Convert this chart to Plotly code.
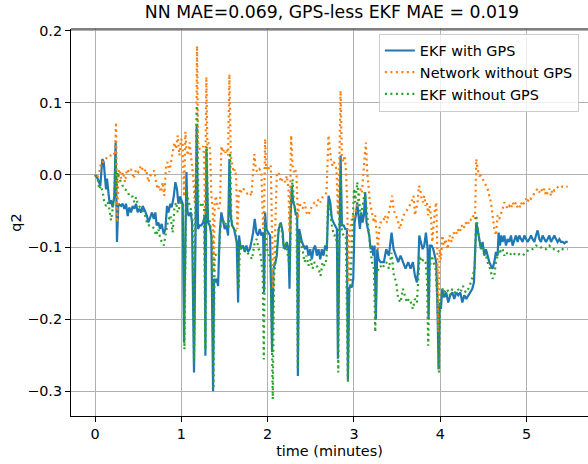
import plotly.graph_objects as go

# ---------------- data ----------------
t_ekf_gps = [0.0, 0.029, 0.060, 0.083, 0.099, 0.114, 0.126, 0.137, 0.153, 0.168, 0.184, 0.203, 0.222, 0.237, 0.253,
             0.269, 0.300, 0.319, 0.338, 0.358, 0.377, 0.396, 0.416, 0.435, 0.454, 0.474, 0.493, 0.512, 0.532, 0.551,
             0.578, 0.601, 0.617, 0.640, 0.659, 0.679, 0.698, 0.713, 0.733, 0.752, 0.771, 0.795, 0.814, 0.833, 0.849,
             0.872, 0.887, 0.911, 0.930, 0.949, 0.965, 0.984, 1.015, 1.030, 1.045, 1.058, 1.070, 1.084, 1.108, 1.123,
             1.146, 1.166, 1.177, 1.193, 1.212, 1.231, 1.251, 1.270, 1.278, 1.289, 1.309, 1.328, 1.347, 1.367, 1.378,
             1.394, 1.409, 1.425, 1.444, 1.463, 1.483, 1.502, 1.521, 1.541, 1.556, 1.572, 1.587, 1.610, 1.626, 1.641,
             1.657, 1.668, 1.688, 1.715, 1.734, 1.753, 1.773, 1.792, 1.811, 1.831, 1.850, 1.869, 1.889, 1.908, 1.927,
             1.947, 1.958, 1.970, 1.982, 2.005, 2.028, 2.051, 2.067, 2.090, 2.105, 2.128, 2.152, 2.175, 2.183, 2.203,
             2.222, 2.241, 2.253, 2.265, 2.280, 2.295, 2.311, 2.326, 2.342, 2.350, 2.365, 2.381, 2.396, 2.415, 2.435,
             2.454, 2.473, 2.493, 2.512, 2.531, 2.551, 2.570, 2.589, 2.609, 2.628, 2.647, 2.667, 2.686, 2.705, 2.725,
             2.744, 2.763, 2.783, 2.802, 2.814, 2.829, 2.845, 2.860, 2.879, 2.899, 2.918, 2.930, 2.945, 2.961, 2.976,
             2.992, 3.007, 3.022, 3.038, 3.053, 3.069, 3.084, 3.100, 3.115, 3.131, 3.146, 3.162, 3.177, 3.193, 3.208,
             3.224, 3.239, 3.254, 3.270, 3.285, 3.309, 3.347, 3.374, 3.405, 3.436, 3.459, 3.482, 3.513, 3.540, 3.567,
             3.598, 3.629, 3.656, 3.683, 3.707, 3.730, 3.745, 3.757, 3.776, 3.796, 3.815, 3.834, 3.854, 3.865, 3.881,
             3.900, 3.919, 3.939, 3.954, 3.970, 3.981, 3.993, 4.008, 4.024, 4.047, 4.070, 4.093, 4.117, 4.140, 4.163,
             4.186, 4.209, 4.233, 4.256, 4.279, 4.302, 4.325, 4.349, 4.372, 4.391, 4.407, 4.418, 4.433, 4.453, 4.472,
             4.491, 4.511, 4.530, 4.549, 4.569, 4.588, 4.607, 4.627, 4.646, 4.665, 4.677, 4.692, 4.708, 4.723, 4.743,
             4.762, 4.781, 4.801, 4.820, 4.839, 4.859, 4.878, 4.897, 4.917, 4.936, 4.955, 4.975, 4.994, 5.013, 5.033,
             5.052, 5.071, 5.091, 5.110, 5.129, 5.149, 5.168, 5.187, 5.207, 5.226, 5.245, 5.265, 5.284, 5.303, 5.323,
             5.342, 5.361, 5.381, 5.400, 5.419, 5.439, 5.458, 5.478]
q2_ekf_gps = [0.0, -0.005, -0.015, 0.022, 0.018, -0.010, -0.020, -0.005, -0.030, -0.040, -0.035, -0.045, -0.030, 0.045, -0.093,
              -0.040, -0.043, -0.040, -0.047, -0.040, -0.057, -0.045, -0.052, -0.043, -0.047, -0.040, -0.052, -0.047, -0.052, -0.043,
              -0.050, -0.057, -0.066, -0.057, -0.052, -0.061, -0.052, -0.070, -0.066, -0.075, -0.068, -0.082, -0.075, -0.043, -0.052,
              -0.040, -0.045, -0.030, -0.010, -0.020, -0.040, -0.030, -0.040, -0.232, -0.060, 0.004, -0.050, -0.057, -0.052, -0.066,
              -0.274, -0.057, 0.070, -0.075, -0.070, -0.070, -0.066, -0.057, -0.251, 0.036, -0.066, -0.070, -0.084, -0.300, -0.144,
              -0.149, -0.144, -0.154, -0.080, -0.052, -0.066, -0.075, -0.070, -0.084, 0.022, -0.057, -0.070, -0.075, -0.084, -0.093,
              -0.177, -0.084, -0.103, -0.098, -0.107, -0.098, -0.107, -0.103, -0.093, -0.080, -0.061, -0.080, -0.084, -0.075, -0.084,
              -0.080, -0.163, -0.052, -0.075, -0.080, -0.084, -0.246, -0.130, -0.121, -0.112, -0.075, -0.066, -0.080, -0.098, -0.103,
              -0.093, -0.103, -0.158, -0.057, -0.015, -0.038, -0.043, -0.056, -0.052, -0.279, -0.075, -0.084, -0.093, -0.098, -0.103,
              -0.098, -0.112, -0.103, -0.117, -0.103, -0.098, -0.112, -0.103, -0.117, -0.103, -0.112, -0.098, -0.103, -0.029, -0.038,
              -0.061, -0.066, -0.070, -0.075, -0.255, -0.075, 0.027, -0.070, -0.070, -0.075, -0.075, -0.283, -0.158, -0.154, -0.156,
              -0.144, -0.066, -0.056, -0.038, -0.056, -0.075, -0.052, -0.066, -0.056, -0.024, -0.066, -0.075, -0.084, -0.103, -0.098,
              -0.112, -0.098, -0.200, -0.103, -0.117, -0.121, -0.121, -0.103, -0.112, -0.080, -0.103, -0.112, -0.121, -0.112, -0.121,
              -0.130, -0.121, -0.130, -0.121, -0.140, -0.149, -0.130, -0.084, -0.093, -0.103, -0.098, -0.080, -0.103, -0.200, -0.098,
              -0.098, -0.103, -0.112, -0.121, -0.195, -0.270, -0.177, -0.186, -0.158, -0.170, -0.163, -0.177, -0.167, -0.163, -0.172,
              -0.163, -0.167, -0.163, -0.177, -0.167, -0.172, -0.167, -0.163, -0.158, -0.149, -0.103, -0.066, -0.075, -0.093, -0.103,
              -0.093, -0.112, -0.103, -0.112, -0.121, -0.126, -0.130, -0.121, -0.107, -0.112, -0.080, -0.098, -0.084, -0.093, -0.084,
              -0.098, -0.089, -0.093, -0.084, -0.098, -0.089, -0.084, -0.093, -0.084, -0.089, -0.093, -0.084, -0.089, -0.093, -0.089,
              -0.084, -0.089, -0.093, -0.084, -0.077, -0.089, -0.093, -0.084, -0.089, -0.093, -0.089, -0.084, -0.093, -0.089, -0.084,
              -0.089, -0.093, -0.089, -0.093, -0.093, -0.095, -0.093, -0.093]

t_network = [0.0, 0.021, 0.048, 0.068, 0.099, 0.126, 0.153, 0.184, 0.215, 0.230, 0.242, 0.249, 0.257, 0.269, 0.284,
             0.300, 0.323, 0.346, 0.369, 0.396, 0.416, 0.447, 0.474, 0.501, 0.532, 0.563, 0.590, 0.617, 0.640, 0.667,
             0.686, 0.706, 0.725, 0.744, 0.764, 0.783, 0.802, 0.822, 0.841, 0.860, 0.880, 0.899, 0.918, 0.938, 0.957,
             0.976, 0.996, 1.015, 1.030, 1.046, 1.058, 1.077, 1.096, 1.115, 1.135, 1.154, 1.169, 1.181, 1.193, 1.212,
             1.231, 1.251, 1.262, 1.274, 1.289, 1.301, 1.316, 1.332, 1.347, 1.363, 1.374, 1.386, 1.401, 1.417, 1.432,
             1.448, 1.463, 1.479, 1.494, 1.510, 1.525, 1.541, 1.556, 1.572, 1.587, 1.603, 1.618, 1.634, 1.649, 1.664,
             1.680, 1.695, 1.718, 1.742, 1.765, 1.792, 1.811, 1.831, 1.846, 1.862, 1.881, 1.904, 1.927, 1.947, 1.958,
             1.970, 1.982, 1.997, 2.020, 2.036, 2.051, 2.063, 2.074, 2.090, 2.105, 2.128, 2.152, 2.175, 2.203, 2.222,
             2.241, 2.253, 2.272, 2.288, 2.303, 2.319, 2.334, 2.350, 2.365, 2.381, 2.404, 2.427, 2.450, 2.473, 2.497,
             2.520, 2.543, 2.566, 2.589, 2.613, 2.636, 2.659, 2.682, 2.705, 2.721, 2.736, 2.752, 2.767, 2.783, 2.798,
             2.814, 2.829, 2.845, 2.860, 2.875, 2.891, 2.906, 2.922, 2.937, 2.953, 2.968, 2.984, 2.999, 3.015, 3.030,
             3.046, 3.061, 3.077, 3.092, 3.107, 3.123, 3.138, 3.154, 3.169, 3.185, 3.200, 3.216, 3.231, 3.247, 3.262,
             3.278, 3.293, 3.309, 3.335, 3.359, 3.382, 3.405, 3.428, 3.444, 3.459, 3.482, 3.506, 3.529, 3.552, 3.575,
             3.598, 3.622, 3.645, 3.668, 3.691, 3.707, 3.722, 3.738, 3.753, 3.769, 3.784, 3.799, 3.815, 3.830, 3.846,
             3.861, 3.877, 3.892, 3.908, 3.923, 3.939, 3.954, 3.966, 3.977, 3.993, 4.008, 4.024, 4.043, 4.062, 4.086,
             4.109, 4.132, 4.155, 4.179, 4.202, 4.225, 4.248, 4.271, 4.295, 4.318, 4.341, 4.364, 4.387, 4.403, 4.418,
             4.433, 4.453, 4.472, 4.491, 4.511, 4.530, 4.549, 4.569, 4.588, 4.607, 4.627, 4.646, 4.665, 4.685, 4.704,
             4.723, 4.743, 4.762, 4.781, 4.801, 4.820, 4.839, 4.859, 4.878, 4.897, 4.917, 4.936, 4.955, 4.975, 4.994,
             5.013, 5.033, 5.052, 5.071, 5.091, 5.110, 5.129, 5.149, 5.168, 5.187, 5.207, 5.226, 5.245, 5.265, 5.284,
             5.303, 5.323, 5.342, 5.361, 5.381, 5.400, 5.419, 5.439, 5.458, 5.478]
q2_network = [0.0, -0.005, 0.004, 0.018, 0.018, 0.022, 0.027, 0.027, 0.031, 0.027, 0.073, 0.004, -0.066, 0.004, 0.008,
              -0.005, 0.004, -0.010, 0.008, 0.004, 0.008, -0.005, 0.008, 0.004, 0.013, 0.004, 0.008, -0.010, -0.001, 0.004,
              0.006, -0.010, -0.020, -0.015, -0.024, -0.010, -0.029, 0.013, 0.018, 0.004, 0.018, 0.027, 0.045, 0.036, 0.055,
              0.027, 0.050, 0.045, -0.030, 0.060, 0.036, 0.027, 0.045, 0.022, -0.001, -0.038, -0.001, 0.179, 0.045, 0.036,
              0.036, 0.040, 0.027, -0.056, 0.136, 0.040, 0.045, 0.036, -0.029, -0.047, -0.135, -0.038, -0.029, -0.043, -0.047,
              -0.038, 0.040, 0.031, 0.036, 0.031, 0.036, 0.027, 0.140, 0.027, 0.018, 0.004, 0.008, -0.001, -0.075, -0.029,
              -0.019, -0.024, -0.019, -0.024, -0.026, -0.024, -0.029, 0.008, 0.029, 0.008, 0.004, 0.008, 0.004, -0.075, -0.056,
              0.050, 0.008, 0.013, 0.008, 0.013, -0.103, -0.158, -0.130, -0.038, -0.001, 0.004, -0.010, -0.005, -0.010, -0.001,
              -0.019, -0.080, 0.055, 0.013, 0.004, 0.008, -0.001, -0.060, -0.038, -0.043, -0.047, -0.038, -0.052, -0.056, -0.047,
              -0.043, -0.038, -0.043, -0.033, -0.038, -0.031, -0.029, -0.024, 0.055, 0.036, 0.018, 0.013, 0.018, 0.013, 0.008,
              -0.056, 0.004, 0.117, 0.027, 0.018, 0.027, 0.008, -0.038, -0.149, -0.080, -0.066, -0.056, -0.061, -0.052, -0.047,
              -0.038, -0.029, -0.019, -0.024, -0.001, 0.027, 0.045, 0.004, -0.019, -0.038, -0.047, -0.056, -0.066, -0.056, -0.084,
              -0.103, -0.075, -0.066, -0.066, -0.056, -0.066, -0.052, -0.043, -0.029, -0.047, -0.056, -0.061, -0.075, -0.066, -0.056,
              -0.052, -0.047, -0.043, -0.038, -0.029, -0.056, -0.047, -0.038, -0.015, -0.019, -0.033, -0.038, -0.029, -0.043, -0.038,
              -0.056, -0.043, -0.056, -0.093, -0.066, -0.047, -0.038, -0.103, -0.218, -0.103, -0.117, -0.084, -0.098, -0.089, -0.103,
              -0.084, -0.093, -0.080, -0.084, -0.075, -0.080, -0.070, -0.075, -0.066, -0.070, -0.061, -0.063, -0.056, -0.061, 0.022,
              0.008, -0.001, -0.001, -0.005, -0.010, -0.015, -0.019, -0.029, -0.038, -0.056, -0.075, -0.084, -0.056, -0.061, -0.052,
              -0.047, -0.038, -0.043, -0.047, -0.043, -0.047, -0.038, -0.043, -0.038, -0.045, -0.047, -0.038, -0.043, -0.038, -0.033,
              -0.038, -0.031, -0.033, -0.029, -0.024, -0.022, -0.019, -0.024, -0.019, -0.024, -0.019, -0.029, -0.024, -0.019, -0.029,
              -0.019, -0.022, -0.019, -0.017, -0.019, -0.017, -0.016, -0.017, -0.016, -0.016]

t_ekf_nogps = [0.0, 0.029, 0.048, 0.068, 0.087, 0.106, 0.126, 0.145, 0.164, 0.184, 0.203, 0.222, 0.237, 0.249, 0.261,
               0.280, 0.300, 0.338, 0.377, 0.396, 0.435, 0.454, 0.474, 0.493, 0.532, 0.570, 0.609, 0.648, 0.686, 0.706,
               0.733, 0.756, 0.795, 0.822, 0.841, 0.872, 0.899, 0.918, 0.938, 0.957, 0.996, 1.019, 1.035, 1.050, 1.060,
               1.084, 1.108, 1.131, 1.146, 1.162, 1.181, 1.197, 1.216, 1.239, 1.262, 1.278, 1.293, 1.309, 1.332, 1.355,
               1.371, 1.386, 1.409, 1.432, 1.456, 1.479, 1.502, 1.525, 1.548, 1.564, 1.579, 1.603, 1.626, 1.649, 1.664,
               1.680, 1.703, 1.734, 1.765, 1.792, 1.819, 1.850, 1.873, 1.896, 1.920, 1.943, 1.955, 1.970, 1.989, 2.012,
               2.036, 2.059, 2.074, 2.098, 2.121, 2.144, 2.167, 2.187, 2.210, 2.234, 2.257, 2.272, 2.288, 2.303, 2.319,
               2.334, 2.350, 2.365, 2.381, 2.404, 2.427, 2.450, 2.473, 2.497, 2.520, 2.543, 2.566, 2.589, 2.613, 2.636,
               2.659, 2.682, 2.698, 2.721, 2.744, 2.767, 2.790, 2.806, 2.818, 2.829, 2.845, 2.860, 2.883, 2.906, 2.930,
               2.945, 2.961, 2.984, 3.000, 3.015, 3.038, 3.053, 3.077, 3.100, 3.123, 3.138, 3.162, 3.185, 3.208, 3.231,
               3.247, 3.262, 3.285, 3.309, 3.320, 3.347, 3.374, 3.405, 3.436, 3.463, 3.490, 3.513, 3.540, 3.567, 3.591,
               3.614, 3.637, 3.660, 3.683, 3.707, 3.730, 3.745, 3.761, 3.784, 3.807, 3.830, 3.846, 3.861, 3.877, 3.900,
               3.923, 3.946, 3.970, 3.985, 4.000, 4.024, 4.047, 4.078, 4.109, 4.140, 4.171, 4.202, 4.233, 4.264, 4.295,
               4.325, 4.356, 4.380, 4.399, 4.418, 4.433, 4.453, 4.472, 4.491, 4.511, 4.530, 4.549, 4.569, 4.588, 4.607,
               4.627, 4.646, 4.665, 4.685, 4.704, 4.723, 4.743, 4.762, 4.801, 4.839, 4.878, 4.917, 4.955, 4.994, 5.033,
               5.071, 5.110, 5.149, 5.187, 5.226, 5.265, 5.303, 5.342, 5.381, 5.419, 5.458, 5.478]
q2_ekf_nogps = [0.0, -0.005, -0.020, -0.015, -0.024, -0.038, -0.043, -0.038, -0.047, -0.063, -0.047, -0.030, 0.027, -0.020, 0.004,
                -0.005, -0.010, -0.020, -0.022, -0.030, -0.030, -0.038, -0.031, -0.040, -0.047, -0.052, -0.070, -0.070, -0.075, -0.084,
                -0.075, -0.089, -0.098, -0.075, -0.066, -0.056, -0.080, -0.047, -0.038, -0.052, -0.038, -0.038, -0.242, -0.070, -0.020,
                -0.038, -0.047, -0.066, -0.260, -0.038, 0.096, -0.038, -0.043, -0.038, -0.047, -0.242, 0.040, -0.057, -0.066, -0.093,
                -0.297, -0.112, -0.110, -0.112, -0.066, -0.061, -0.070, -0.066, -0.075, 0.031, -0.061, -0.075, -0.075, -0.103, -0.158,
                -0.093, -0.103, -0.103, -0.107, -0.112, -0.117, -0.093, -0.089, -0.103, -0.112, -0.140, -0.256, -0.066, -0.103, -0.107,
                -0.130, -0.311, -0.140, -0.112, -0.080, -0.066, -0.080, -0.103, -0.093, -0.112, -0.130, -0.038, -0.006, -0.038, -0.047,
                -0.056, -0.270, -0.084, -0.093, -0.103, -0.121, -0.112, -0.126, -0.117, -0.130, -0.121, -0.126, -0.130, -0.140, -0.121,
                -0.126, -0.117, -0.038, -0.047, -0.070, -0.084, -0.084, -0.103, -0.274, -0.070, 0.008, -0.080, -0.084, -0.084, -0.288,
                -0.163, -0.149, -0.075, -0.019, -0.038, -0.010, -0.029, -0.056, -0.043, -0.024, -0.038, -0.066, -0.103, -0.121, -0.130,
                -0.218, -0.140, -0.130, -0.126, -0.130, -0.126, -0.121, -0.130, -0.108, -0.140, -0.149, -0.172, -0.177, -0.158, -0.167,
                -0.177, -0.172, -0.177, -0.186, -0.172, -0.177, -0.140, -0.112, -0.121, -0.117, -0.121, -0.144, -0.237, -0.130, -0.112,
                -0.121, -0.130, -0.177, -0.274, -0.177, -0.158, -0.163, -0.158, -0.167, -0.158, -0.163, -0.158, -0.163, -0.154, -0.163,
                -0.158, -0.149, -0.140, -0.130, -0.056, -0.075, -0.093, -0.103, -0.098, -0.112, -0.112, -0.121, -0.126, -0.135, -0.144,
                -0.140, -0.121, -0.112, -0.103, -0.107, -0.103, -0.112, -0.107, -0.112, -0.107, -0.112, -0.110, -0.112, -0.107, -0.103,
                -0.103, -0.098, -0.098, -0.103, -0.103, -0.098, -0.103, -0.103, -0.107, -0.103, -0.103, -0.103]

x_ticks = [0, 1, 2, 3, 4, 5]
x_tick_labels = ["0", "1", "2", "3", "4", "5"]
y_ticks = [-0.3, -0.2, -0.1, 0.0, 0.1, 0.2]
y_tick_labels = ["\u22120.3", "\u22120.2", "\u22120.1", "0.0", "0.1", "0.2"]

title_text = "NN MAE=0.069, GPS-less EKF MAE = 0.019"

# ---------------- figure ----------------
FONT = "DejaVu Sans"
FS = 14.4
fig = go.Figure()
fig.add_trace(go.Scatter(x=t_ekf_gps, y=q2_ekf_gps, mode="lines", name="EKF with GPS",
                         line=dict(color="#1f77b4", width=2.2)))
fig.add_trace(go.Scatter(x=t_network, y=q2_network, mode="lines", name="Network without GPS",
                         line=dict(color="#ff7f0e", width=2.2, dash="2px,3.5px")))
fig.add_trace(go.Scatter(x=t_ekf_nogps, y=q2_ekf_nogps, mode="lines", name="EKF without GPS",
                         line=dict(color="#2ca02c", width=2.2, dash="2px,3.5px")))

fig.update_layout(
    width=588, height=464,
    margin=dict(l=71, r=0, t=29, b=48, autoexpand=False),
    paper_bgcolor="white", plot_bgcolor="white",
    font=dict(family=FONT, size=FS, color="black"),
    title=dict(text=title_text, x=0.5046, xref="paper", xanchor="center",
               y=1 - 12 / 464, yref="container", yanchor="middle",
               font=dict(family=FONT, size=17.3, color="black")),
    legend=dict(x=0.5955, y=0.988, xanchor="left", yanchor="top",
                bgcolor="rgba(255,255,255,0.8)", bordercolor="#cccccc", borderwidth=1,
                font=dict(family=FONT, size=FS, color="black"), tracegroupgap=0),
    showlegend=True,
)
fig.update_xaxes(range=[-0.28, 5.713], tickvals=x_ticks, ticktext=x_tick_labels,
                 showgrid=True, gridcolor="#b0b0b0", gridwidth=1, zeroline=False,
                 showline=True, linecolor="black", linewidth=1, mirror=False,
                 ticks="outside", ticklen=5, tickwidth=1, tickcolor="black",
                 tickfont=dict(family=FONT, size=FS, color="black"),
                 title=dict(text="time (minutes)", standoff=4, font=dict(family=FONT, size=FS, color="black")),
                 automargin=False)
fig.update_yaxes(range=[-0.3345, 0.2025], tickvals=y_ticks, ticktext=y_tick_labels,
                 showgrid=True, gridcolor="#b0b0b0", gridwidth=1, zeroline=False,
                 showline=True, linecolor="black", linewidth=1,
                 ticks="outside", ticklen=5, tickwidth=1, tickcolor="black",
                 tickfont=dict(family=FONT, size=FS, color="black"),
                 title=dict(text="q2", standoff=2, font=dict(family=FONT, size=FS, color="black")),
                 automargin=False)
# top spine (matplotlib box; right spine is outside the cropped picture)
fig.add_shape(type="line", xref="paper", yref="paper", x0=0, x1=1, y0=1, y1=1,
              line=dict(color="black", width=1))

fig.write_html("out.html")
